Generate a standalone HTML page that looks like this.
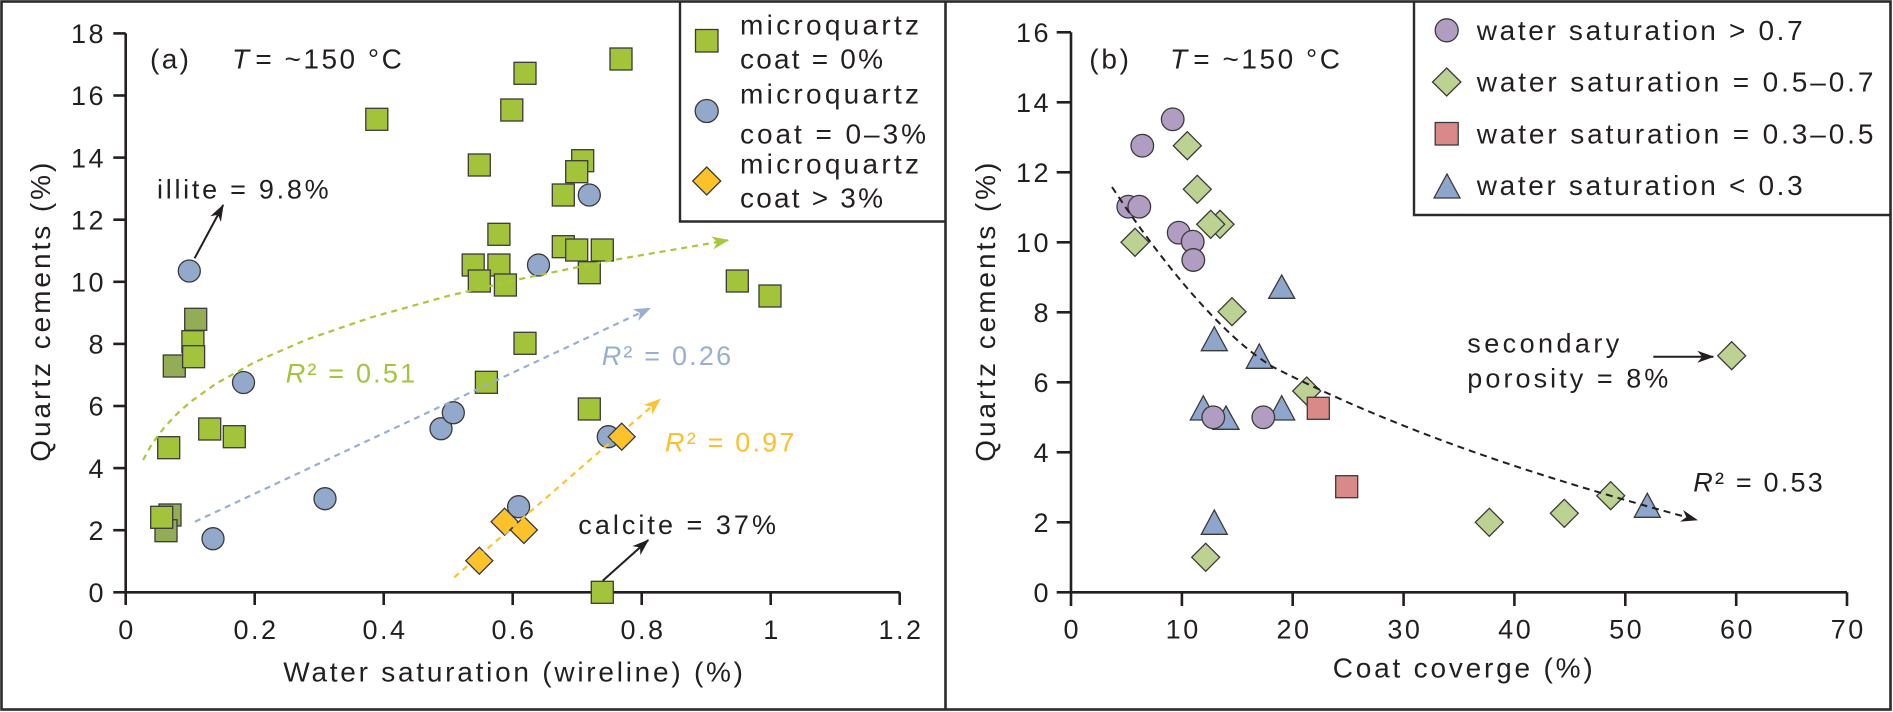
<!DOCTYPE html>
<html>
<head>
<meta charset="utf-8">
<style>
html,body{margin:0;padding:0;background:#fff;}
svg{display:block;}
text{font-family:"Liberation Sans",Arial,sans-serif;fill:#231f20;}
.tk{font-size:27px;letter-spacing:2.5px;}
.sq{fill:#a3c43a;stroke:#3a3a3a;stroke-width:1.3;}
.sqd{fill:#93ad56;stroke:#3a3a3a;stroke-width:1.3;}
.ci{fill:#93a9cb;stroke:#3a3a3a;stroke-width:1.3;}
.dy{fill:#fdc22a;stroke:#3a3a3a;stroke-width:1.3;}
.cp{fill:#b19cc2;stroke:#3a3a3a;stroke-width:1.3;}
.dg{fill:#bdd192;stroke:#3a3a3a;stroke-width:1.3;}
.sr{fill:#d98a88;stroke:#3a3a3a;stroke-width:1.3;}
.tr{fill:#8ea6cc;stroke:#3a3a3a;stroke-width:1.3;}
.ax{stroke:#231f20;stroke-width:2.6;fill:none;}
</style>
</head>
<body>
<svg width="1893" height="712" viewBox="0 0 1893 712" xmlns="http://www.w3.org/2000/svg">
<defs>
<marker id="mg" markerWidth="20" markerHeight="16" refX="17" refY="8" orient="auto" markerUnits="userSpaceOnUse"><path d="M18,8 L1,1.5 L6,8 L1,14.5 Z" fill="#a6c83a"/></marker>
<marker id="mb" markerWidth="20" markerHeight="16" refX="17" refY="8" orient="auto" markerUnits="userSpaceOnUse"><path d="M18,8 L1,1.5 L6,8 L1,14.5 Z" fill="#9aaed2"/></marker>
<marker id="my" markerWidth="20" markerHeight="16" refX="17" refY="8" orient="auto" markerUnits="userSpaceOnUse"><path d="M18,8 L1,1.5 L6,8 L1,14.5 Z" fill="#fbc232"/></marker>
<marker id="mk" markerWidth="20" markerHeight="16" refX="17" refY="8" orient="auto" markerUnits="userSpaceOnUse"><path d="M18,8 L1,2 L6,8 L1,14 Z" fill="#231f20"/></marker>
</defs>
<rect width="1893" height="712" fill="#fff"/>
<!-- outer frame & divider -->
<rect x="1.5" y="1.5" width="1889" height="708" fill="none" stroke="#2b2b2b" stroke-width="2.6"/>
<line x1="945.5" y1="1.5" x2="945.5" y2="710" stroke="#2b2b2b" stroke-width="2.6"/>
<!-- legend boxes -->
<polyline points="680,1.5 680,221.5 945.5,221.5" fill="none" stroke="#2b2b2b" stroke-width="2.4"/>
<polyline points="1414,1.5 1414,215 1891,215" fill="none" stroke="#2b2b2b" stroke-width="2.4"/>

<!-- ================= LEFT PANEL ================= -->
<!-- axes -->
<line class="ax" x1="125.7" y1="33.4" x2="125.7" y2="592.3"/>
<line class="ax" x1="113.3" y1="592.3" x2="899.7" y2="592.3"/>
<g class="ax">
<line x1="113.3" y1="530.2" x2="125.7" y2="530.2"/>
<line x1="113.3" y1="468.1" x2="125.7" y2="468.1"/>
<line x1="113.3" y1="406" x2="125.7" y2="406"/>
<line x1="113.3" y1="343.9" x2="125.7" y2="343.9"/>
<line x1="113.3" y1="281.8" x2="125.7" y2="281.8"/>
<line x1="113.3" y1="219.7" x2="125.7" y2="219.7"/>
<line x1="113.3" y1="157.6" x2="125.7" y2="157.6"/>
<line x1="113.3" y1="95.5" x2="125.7" y2="95.5"/>
<line x1="113.3" y1="33.4" x2="125.7" y2="33.4"/>
<line x1="125.7" y1="592.3" x2="125.7" y2="605"/>
<line x1="254.7" y1="592.3" x2="254.7" y2="605"/>
<line x1="383.7" y1="592.3" x2="383.7" y2="605"/>
<line x1="512.7" y1="592.3" x2="512.7" y2="605"/>
<line x1="641.7" y1="592.3" x2="641.7" y2="605"/>
<line x1="770.7" y1="592.3" x2="770.7" y2="605"/>
<line x1="899.7" y1="592.3" x2="899.7" y2="605"/>
</g>
<g class="tk" text-anchor="end">
<text x="106" y="602">0</text>
<text x="106" y="539.9">2</text>
<text x="106" y="477.8">4</text>
<text x="106" y="415.7">6</text>
<text x="106" y="353.6">8</text>
<text x="106" y="291.5">10</text>
<text x="106" y="229.4">12</text>
<text x="106" y="167.3">14</text>
<text x="106" y="105.2">16</text>
<text x="106" y="43.1">18</text>
</g>
<g class="tk" text-anchor="middle">
<text x="127" y="639">0</text>
<text x="256" y="639">0.2</text>
<text x="385" y="639">0.4</text>
<text x="514" y="639">0.6</text>
<text x="643" y="639">0.8</text>
<text x="772" y="639">1</text>
<text x="901" y="639">1.2</text>
</g>
<text x="283.3" y="681.5" font-size="28" textLength="459.7" lengthAdjust="spacing">Water saturation (wireline) (%)</text>
<text transform="translate(50,461.7) rotate(-90)" font-size="28" textLength="299" lengthAdjust="spacing">Quartz cements (%)</text>

<text x="150" y="68.3" font-size="28" textLength="39" lengthAdjust="spacing">(a)</text>
<text x="232" y="68.3" font-size="28" font-style="italic">T</text>
<text x="255.4" y="68.3" font-size="28" textLength="146.4" lengthAdjust="spacing">= ~150 °C</text>

<!-- left data: dark squares -->
<rect class="sqd" x="184.7" y="308.3" width="22" height="22"/>
<rect class="sqd" x="163.3" y="355" width="22" height="22"/>
<rect class="sqd" x="159" y="504" width="22" height="22"/>
<rect class="sqd" x="155" y="519.7" width="22" height="22"/>
<!-- bright squares -->
<rect class="sq" x="365.8" y="108.3" width="22" height="22"/>
<rect class="sq" x="514" y="62.3" width="22" height="22"/>
<rect class="sq" x="500.8" y="99" width="22" height="22"/>
<rect class="sq" x="468.3" y="154" width="22" height="22"/>
<rect class="sq" x="487.9" y="223.3" width="22" height="22"/>
<rect class="sq" x="462.2" y="254" width="22" height="22"/>
<rect class="sq" x="487.9" y="254" width="22" height="22"/>
<rect class="sq" x="468.3" y="270" width="22" height="22"/>
<rect class="sq" x="494.4" y="274" width="22" height="22"/>
<rect class="sq" x="514" y="332.3" width="22" height="22"/>
<rect class="sq" x="475.4" y="371.3" width="22" height="22"/>
<rect class="sq" x="610" y="48" width="22" height="22"/>
<rect class="sq" x="571.7" y="149.7" width="22" height="22"/>
<rect class="sq" x="565.7" y="160.7" width="22" height="22"/>
<rect class="sq" x="552.3" y="184" width="22" height="22"/>
<rect class="sq" x="552.3" y="235.7" width="22" height="22"/>
<rect class="sq" x="565.7" y="239" width="22" height="22"/>
<rect class="sq" x="591.3" y="239" width="22" height="22"/>
<rect class="sq" x="578.3" y="261.7" width="22" height="22"/>
<rect class="sq" x="726.3" y="270" width="22" height="22"/>
<rect class="sq" x="759" y="285" width="22" height="22"/>
<rect class="sq" x="578.3" y="398" width="22" height="22"/>
<rect class="sq" x="591.3" y="581.3" width="22" height="22"/>
<rect class="sq" x="181.9" y="330.7" width="22" height="22"/>
<rect class="sq" x="182.6" y="345.7" width="22" height="22"/>
<rect class="sq" x="198.7" y="418" width="22" height="22"/>
<rect class="sq" x="223.3" y="425.7" width="22" height="22"/>
<rect class="sq" x="157.7" y="436.7" width="22" height="22"/>
<rect class="sq" x="150.7" y="506.3" width="22" height="22"/>
<!-- blue circles -->
<circle class="ci" cx="189.3" cy="271" r="11"/>
<circle class="ci" cx="243.5" cy="382.5" r="11"/>
<circle class="ci" cx="213" cy="538.7" r="11"/>
<circle class="ci" cx="325" cy="498.7" r="11"/>
<circle class="ci" cx="441" cy="428.7" r="11"/>
<circle class="ci" cx="453.3" cy="412.7" r="11"/>
<circle class="ci" cx="518.6" cy="506.7" r="11"/>
<circle class="ci" cx="538.5" cy="265" r="11"/>
<circle class="ci" cx="589.3" cy="195" r="11"/>
<circle class="ci" cx="608.3" cy="436.7" r="11"/>
<!-- yellow diamonds -->
<polygon class="dy" points="504.6,508.2 518.1,521.7 504.6,535.2 491.1,521.7"/>
<polygon class="dy" points="523.9,516.5 537.4,530 523.9,543.5 510.4,530"/>
<polygon class="dy" points="479.3,547.2 492.8,560.7 479.3,574.2 465.8,560.7"/>
<polygon class="dy" points="621.7,423.2 635.2,436.7 621.7,450.2 608.2,436.7"/>

<!-- trend lines -->
<polyline points="143.1,460 151.5,444.6 164.4,427.2 177.3,413.5 190.2,402.1 216,383.6 254.7,362.2 306.3,339.7 370.8,317.5 448.2,295.9 525.6,277.8 609.5,260.7 728.1,240.2" fill="none" stroke="#a6c83a" stroke-width="2.2" stroke-dasharray="6 5" marker-end="url(#mg)"/>
<line x1="195" y1="521.7" x2="650" y2="308.3" stroke="#9aaed2" stroke-width="2.2" stroke-dasharray="6 5" marker-end="url(#mb)"/>
<line x1="454.3" y1="577.3" x2="660" y2="399.3" stroke="#fbc232" stroke-width="2.2" stroke-dasharray="6 5" marker-end="url(#my)"/>

<text x="285.7" y="382.7" font-size="27" fill="#a4c43c" style="fill:#a4c43c;letter-spacing:2.2px"><tspan font-style="italic">R</tspan>² = 0.51</text>
<text x="601.7" y="365" font-size="27" style="fill:#9aaed0;letter-spacing:2.2px"><tspan font-style="italic">R</tspan>² = 0.26</text>
<text x="665" y="451.7" font-size="27" style="fill:#fbc02d;letter-spacing:2.2px"><tspan font-style="italic">R</tspan>² = 0.97</text>

<!-- annotations -->
<text x="157" y="198.3" font-size="27" textLength="171.6" lengthAdjust="spacing">illite = 9.8%</text>
<line x1="194.6" y1="258.3" x2="223.2" y2="205" stroke="#231f20" stroke-width="2" marker-end="url(#mk)"/>
<text x="578.3" y="534" font-size="27" textLength="197.7" lengthAdjust="spacing">calcite = 37%</text>
<line x1="602.7" y1="580.7" x2="648.3" y2="540" stroke="#231f20" stroke-width="2" marker-end="url(#mk)"/>

<!-- left legend -->
<rect class="sq" x="695.5" y="29.5" width="22.5" height="22.5"/>
<circle class="ci" cx="706.7" cy="111" r="11.5"/>
<polygon class="dy" points="706.7,167 720.7,181 706.7,195 692.7,181"/>
<text x="740" y="34.3" font-size="28" textLength="179" lengthAdjust="spacing">microquartz</text>
<text x="740" y="68.3" font-size="28" textLength="143" lengthAdjust="spacing">coat = 0%</text>
<text x="740" y="103.3" font-size="28" textLength="179" lengthAdjust="spacing">microquartz</text>
<text x="740" y="143.3" font-size="28" textLength="186" lengthAdjust="spacing">coat = 0–3%</text>
<text x="740" y="173.3" font-size="28" textLength="179" lengthAdjust="spacing">microquartz</text>
<text x="740" y="207.3" font-size="28" textLength="143" lengthAdjust="spacing">coat &gt; 3%</text>

<!-- ================= RIGHT PANEL ================= -->
<line class="ax" x1="1071" y1="32.3" x2="1071" y2="592.3"/>
<line class="ax" x1="1056.7" y1="592.3" x2="1847" y2="592.3"/>
<g class="ax">
<line x1="1056.7" y1="522.3" x2="1071" y2="522.3"/>
<line x1="1056.7" y1="452.3" x2="1071" y2="452.3"/>
<line x1="1056.7" y1="382.3" x2="1071" y2="382.3"/>
<line x1="1056.7" y1="312.3" x2="1071" y2="312.3"/>
<line x1="1056.7" y1="242.3" x2="1071" y2="242.3"/>
<line x1="1056.7" y1="172.3" x2="1071" y2="172.3"/>
<line x1="1056.7" y1="102.3" x2="1071" y2="102.3"/>
<line x1="1056.7" y1="32.3" x2="1071" y2="32.3"/>
<line x1="1071" y1="592.3" x2="1071" y2="606"/>
<line x1="1181.9" y1="592.3" x2="1181.9" y2="606"/>
<line x1="1292.7" y1="592.3" x2="1292.7" y2="606"/>
<line x1="1403.6" y1="592.3" x2="1403.6" y2="606"/>
<line x1="1514.4" y1="592.3" x2="1514.4" y2="606"/>
<line x1="1625.3" y1="592.3" x2="1625.3" y2="606"/>
<line x1="1736.2" y1="592.3" x2="1736.2" y2="606"/>
<line x1="1847" y1="592.3" x2="1847" y2="606"/>
</g>
<g class="tk" text-anchor="end">
<text x="1051" y="602">0</text>
<text x="1051" y="532">2</text>
<text x="1051" y="462">4</text>
<text x="1051" y="392">6</text>
<text x="1051" y="322">8</text>
<text x="1051" y="252">10</text>
<text x="1051" y="182">12</text>
<text x="1051" y="112">14</text>
<text x="1051" y="42">16</text>
</g>
<g class="tk" text-anchor="middle">
<text x="1072.3" y="638.5">0</text>
<text x="1183.2" y="638.5">10</text>
<text x="1294" y="638.5">20</text>
<text x="1404.9" y="638.5">30</text>
<text x="1515.7" y="638.5">40</text>
<text x="1626.6" y="638.5">50</text>
<text x="1737.5" y="638.5">60</text>
<text x="1848.3" y="638.5">70</text>
</g>
<text x="1332.7" y="677.7" font-size="28" textLength="260" lengthAdjust="spacing">Coat coverge (%)</text>
<text transform="translate(995,461.7) rotate(-90)" font-size="28" textLength="299" lengthAdjust="spacing">Quartz cements (%)</text>

<text x="1089.3" y="68.3" font-size="28" textLength="39.7" lengthAdjust="spacing">(b)</text>
<text x="1170" y="68.3" font-size="28" font-style="italic">T</text>
<text x="1193.3" y="68.3" font-size="28" textLength="146.7" lengthAdjust="spacing">= ~150 °C</text>

<!-- triangles -->
<polygon class="tr" points="1268.7,298.3 1281.7,275 1294.7,298.3"/>
<polygon class="tr" points="1201.3,350.7 1214.3,326.7 1227.3,350.7"/>
<polygon class="tr" points="1246.3,368.3 1259.3,344 1272.3,368.3"/>
<polygon class="tr" points="1190.3,420 1203.3,395.7 1216.3,420"/>
<polygon class="tr" points="1213,429.3 1226,406 1239,429.3"/>
<polygon class="tr" points="1268.7,420 1281.7,395.7 1294.7,420"/>
<polygon class="tr" points="1201.3,534.3 1214.3,510 1227.3,534.3"/>
<polygon class="tr" points="1634.3,517.3 1647.3,493.3 1660.3,517.3"/>
<!-- green diamonds -->
<polygon class="dg" points="1187.3,131.7 1201.3,145.7 1187.3,159.7 1173.3,145.7"/>
<polygon class="dg" points="1197.3,175.3 1211.3,189.3 1197.3,203.3 1183.3,189.3"/>
<polygon class="dg" points="1220,210.3 1234,224.3 1220,238.3 1206,224.3"/>
<polygon class="dg" points="1210.7,210.3 1224.7,224.3 1210.7,238.3 1196.7,224.3"/>
<polygon class="dg" points="1135,228.3 1149,242.3 1135,256.3 1121,242.3"/>
<polygon class="dg" points="1232,297.7 1246,311.7 1232,325.7 1218,311.7"/>
<polygon class="dg" points="1306.7,377 1320.7,391 1306.7,405 1292.7,391"/>
<polygon class="dg" points="1205.7,543.3 1219.7,557.3 1205.7,571.3 1191.7,557.3"/>
<polygon class="dg" points="1731.7,341.7 1745.7,355.7 1731.7,369.7 1717.7,355.7"/>
<polygon class="dg" points="1489.3,508.3 1503.3,522.3 1489.3,536.3 1475.3,522.3"/>
<polygon class="dg" points="1564.3,499.3 1578.3,513.3 1564.3,527.3 1550.3,513.3"/>
<polygon class="dg" points="1610.7,481.7 1624.7,495.7 1610.7,509.7 1596.7,495.7"/>
<!-- red squares -->
<rect class="sr" x="1307.3" y="397.3" width="22" height="22"/>
<rect class="sr" x="1335.7" y="475.7" width="22" height="22"/>
<!-- purple circles -->
<circle class="cp" cx="1172.7" cy="119.3" r="11.3"/>
<circle class="cp" cx="1142.3" cy="145.7" r="11.3"/>
<circle class="cp" cx="1128.3" cy="206.7" r="11.3"/>
<circle class="cp" cx="1139.3" cy="206.7" r="11.3"/>
<circle class="cp" cx="1178.7" cy="232.7" r="11.3"/>
<circle class="cp" cx="1192.7" cy="241.7" r="11.3"/>
<circle class="cp" cx="1193.3" cy="260" r="11.3"/>
<circle class="cp" cx="1213.3" cy="417.3" r="11.3"/>
<circle class="cp" cx="1263.3" cy="417.3" r="11.3"/>

<!-- trend -->
<path d="M1112,187 C1162,263 1223,337 1273,367 C1413,438 1557,482 1697,520" fill="none" stroke="#231f20" stroke-width="2" stroke-dasharray="7 5" marker-end="url(#mk)"/>
<text x="1693.3" y="491.7" font-size="27" style="letter-spacing:2.2px"><tspan font-style="italic">R</tspan>² = 0.53</text>

<text x="1467.3" y="352.7" font-size="27" textLength="152" lengthAdjust="spacing">secondary</text>
<text x="1467.3" y="387.3" font-size="27" textLength="201" lengthAdjust="spacing">porosity = 8%</text>
<line x1="1653.3" y1="356.7" x2="1713.3" y2="356.7" stroke="#231f20" stroke-width="2" marker-end="url(#mk)"/>

<!-- right legend -->
<circle class="cp" cx="1446.7" cy="30.3" r="11.5"/>
<polygon class="dg" points="1446.7,68 1460.9,82 1446.7,96 1432.5,82"/>
<rect class="sr" x="1435.2" y="122.5" width="23" height="22.5"/>
<polygon class="tr" points="1434,198 1447,174 1460,198"/>
<text x="1476.7" y="40" font-size="28" textLength="326" lengthAdjust="spacing">water saturation &gt; 0.7</text>
<text x="1476.7" y="91.7" font-size="28" textLength="396.7" lengthAdjust="spacing">water saturation = 0.5–0.7</text>
<text x="1476.7" y="143.3" font-size="28" textLength="396.7" lengthAdjust="spacing">water saturation = 0.3–0.5</text>
<text x="1476.7" y="195" font-size="28" textLength="326" lengthAdjust="spacing">water saturation &lt; 0.3</text>
</svg>
</body>
</html>
